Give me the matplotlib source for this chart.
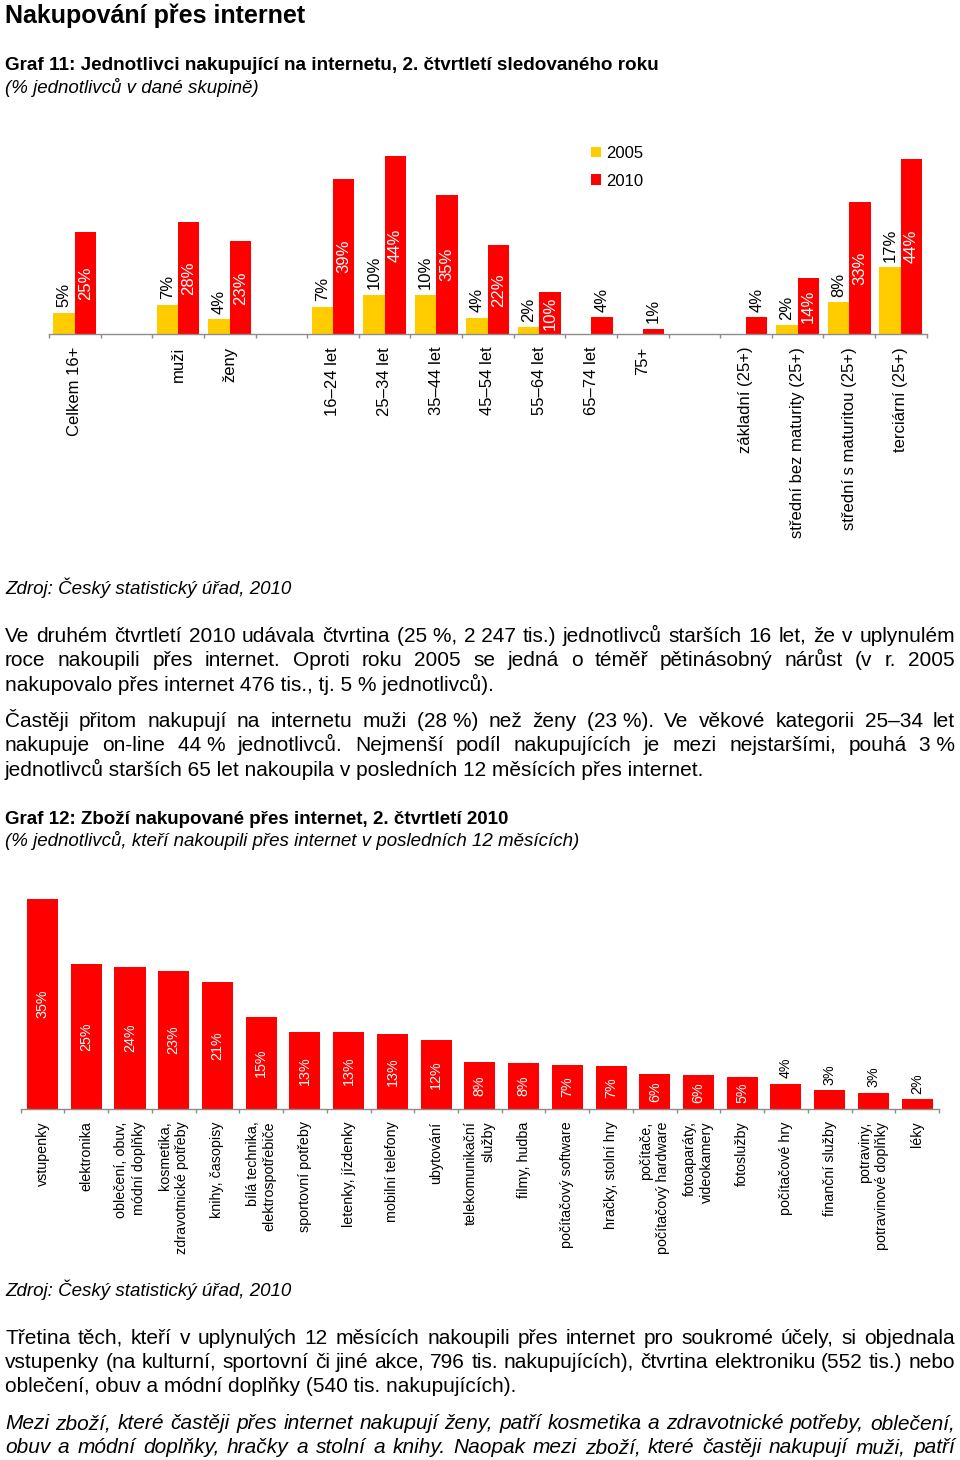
import numpy as np
import matplotlib
matplotlib.use("Agg")
import matplotlib.pyplot as plt
from matplotlib.patches import Patch

plt.rcParams['font.family'] = ['Liberation Sans', 'DejaVu Sans']

# ---------------- data: chart 1 ----------------
groups = ['Celkem 16+', '', 'muži', 'ženy', '', '16–24 let', '25–34 let',
          '35–44 let', '45–54 let', '55–64 let', '65–74 let', '75+', '',
          'základní (25+)', 'střední bez maturity (25+)',
          'střední s maturitou (25+)', 'terciární (25+)']
v2005 = [5.4, 0, 7.3, 3.7, 0, 6.8, 9.8, 9.8, 4.1, 1.8, 0, 0, 0, 0, 2.2, 8.0, 16.7]
v2010 = [25.4, 0, 27.9, 23.1, 0, 38.7, 44.4, 34.6, 22.1, 10.4, 4.2, 1.4, 0, 4.2, 14.0, 32.8, 43.6]
lab2005 = ['5%', '', '7%', '4%', '', '7%', '10%', '10%', '4%', '2%', '', '', '', '', '2%', '8%', '17%']
lab2010 = ['25%', '', '28%', '23%', '', '39%', '44%', '35%', '22%', '10%', '4%', '1%', '', '4%', '14%', '33%', '44%']
series_names = ['2005', '2010']

# ---------------- data: chart 2 ----------------
goods = ['vstupenky', 'elektronika', 'oblečení, obuv,\nmódní doplňky',
         'kosmetika,\nzdravotnické potřeby', 'knihy, časopisy',
         'bílá technika,\nelektrospotřebiče', 'sportovní potřeby',
         'letenky, jízdenky', 'mobilní telefony', 'ubytování',
         'telekomunikační\nslužby', 'filmy, hudba', 'počítačový software',
         'hračky, stolní hry', 'počítače,\npočítačový hardware',
         'fotoaparáty,\nvideokamery', 'fotoslužby', 'počítačové hry',
         'finanční služby', 'potraviny,\npotravinové doplňky', 'léky']
goods_val = [35.0, 24.2, 23.7, 23.0, 21.2, 15.3, 12.9, 12.9, 12.5, 11.5, 7.9,
             7.6, 7.3, 7.1, 5.8, 5.6, 5.3, 4.2, 3.1, 2.7, 1.6]
goods_lab = ['35%', '25%', '24%', '23%', '21%', '15%', '13%', '13%', '13%', '12%',
             '8%', '8%', '7%', '7%', '6%', '6%', '5%', '4%', '3%', '3%', '2%']

# ---------------- texts ----------------
title = 'Nakupování přes internet'
g11_title = 'Graf 11: Jednotlivci nakupující na internetu, 2. čtvrtletí sledovaného roku'
g11_sub = '(% jednotlivců v dané skupině)'
source = 'Zdroj: Český statistický úřad, 2010'
g12_title = 'Graf 12: Zboží nakupované přes internet, 2. čtvrtletí 2010'
g12_sub = '(% jednotlivců, kteří nakoupili přes internet v posledních 12 měsících)'
NB = '\u00a0'
par1 = ['Ve druhém čtvrtletí 2010 udávala čtvrtina (25' + NB + '%, 2' + NB + '247 tis.) jednotlivců starších 16 let, že v uplynulém',
        'roce nakoupili přes internet. Oproti roku 2005 se jedná o téměř pětinásobný nárůst (v r. 2005',
        'nakupovalo přes internet 476 tis., tj. 5' + NB + '% jednotlivců).']
par2 = ['Častěji přitom nakupují na internetu muži (28' + NB + '%) než ženy (23' + NB + '%). Ve věkové kategorii 25–34 let',
        'nakupuje on-line 44' + NB + '% jednotlivců. Nejmenší podíl nakupujících je mezi nejstaršími, pouhá 3' + NB + '%',
        'jednotlivců starších 65 let nakoupila v posledních 12 měsících přes internet.']
par3 = ['Třetina těch, kteří v uplynulých 12 měsících nakoupili přes internet pro soukromé účely, si objednala',
        'vstupenky (na kulturní, sportovní či jiné akce, 796 tis. nakupujících), čtvrtina elektroniku (552 tis.) nebo',
        'oblečení, obuv a módní doplňky (540 tis. nakupujících).']
par4 = ['Mezi zboží, které častěji přes internet nakupují ženy, patří kosmetika a zdravotnické potřeby, oblečení,',
        'obuv a módní doplňky, hračky a stolní a knihy. Naopak mezi zboží, které častěji nakupují muži, patří']

YELLOW = '#FFCC00'
RED = '#FF0000'
GREY = '#8C8C8C'

W, H = 960, 1460
fig = plt.figure(figsize=(9.6, 14.6), dpi=100)
fig.patch.set_facecolor('white')
renderer = fig.canvas.get_renderer()


def fy(y):
    return 1 - y / H


def ax_px(left, top, right, bottom):
    return fig.add_axes([left / W, 1 - bottom / H, (right - left) / W, (bottom - top) / H])


def fit_text(x, y, s, x_end, **kw):
    t = fig.text(x / W, fy(y), s, fontsize=10, va='baseline', ha='left', **kw)
    w = t.get_window_extent(renderer).width
    t.set_fontsize(10 * (x_end - x) / w)
    return t


def size_for(s, width, **kw):
    t = fig.text(0, 0, s, fontsize=10, **kw)
    w = t.get_window_extent(renderer).width
    t.remove()
    return 10 * width / w


def para_line(y, s, size, justify, x0=5, x1=955, **kw):
    if not justify:
        fig.text(x0 / W, fy(y), s, fontsize=size, va='baseline', ha='left', **kw)
        return
    words = s.split(' ')
    ts = [fig.text(0, fy(y), w, fontsize=size, va='baseline', ha='left', **kw) for w in words]
    widths = [t.get_window_extent(renderer).width for t in ts]
    gap = (x1 - x0 - sum(widths)) / (len(words) - 1)
    x = x0
    for t, w in zip(ts, widths):
        t.set_x(x / W)
        x += w + gap


def style_axis(ax, n, pad):
    for s in ['top', 'right', 'left']:
        ax.spines[s].set_visible(False)
    ax.spines['bottom'].set_color(GREY)
    ax.spines['bottom'].set_linewidth(1.0)
    ax.set_yticks([])
    ax.set_xlim(-0.5, n - 0.5)
    ax.set_xticks(np.arange(n + 1) - 0.5)
    ax.tick_params(axis='x', which='major', length=3, width=1, color=GREY,
                   direction='out', labelbottom=False)
    ax.set_xticks(np.arange(n), minor=True)
    ax.tick_params(axis='x', which='minor', length=0, pad=pad)
    ax.set_facecolor('none')


# ---------------- header texts ----------------
fit_text(5, 23, title, 305, fontweight='bold')
fit_text(5, 70, g11_title, 658, fontweight='bold')
fit_text(5, 93, g11_sub, 260, style='italic')

# ---------------- chart 1 ----------------
n1 = len(groups)
ax1 = ax_px(49, 334.3 - 45 * 4.02, 926.7, 334.3)
x1 = np.arange(n1)
bw = 0.415
ax1.bar(x1 - bw / 2, v2005, bw, color=YELLOW, linewidth=0)
ax1.bar(x1 + bw / 2, v2010, bw, color=RED, linewidth=0)
ax1.set_ylim(0, 45)
style_axis(ax1, n1, 9)
ax1.set_xticklabels(groups, minor=True, rotation=90, fontsize=12, ha='center', va='top')
for xi, v, lab in zip(x1, v2005, lab2005):
    if lab:
        ax1.annotate(lab, (xi - bw / 2, v), xytext=(0, 4), textcoords='offset points',
                     rotation=90, ha='center', va='bottom', fontsize=12, color='black')
for xi, v, lab in zip(x1, v2010, lab2010):
    if not lab:
        continue
    if v >= 8:
        ax1.text(xi + bw / 2, v / 2, lab, rotation=90, ha='center', va='center',
                 fontsize=12, color='white')
    else:
        ax1.annotate(lab, (xi + bw / 2, v), xytext=(0, 4), textcoords='offset points',
                     rotation=90, ha='center', va='bottom', fontsize=12, color='black')
handles = [Patch(facecolor=YELLOW, edgecolor='none'), Patch(facecolor=RED, edgecolor='none')]
fig.legend(handles, series_names, loc='upper left', bbox_to_anchor=(591 / W, fy(146)),
           frameon=False, fontsize=12, handlelength=0.6, handleheight=0.6,
           handletextpad=0.3, labelspacing=0.75, borderpad=0, borderaxespad=0)

# ---------------- middle texts ----------------
body = size_for(par1[2], 489)
fit_text(5, 594, source, 293, style='italic')
for y, s, j in zip([642, 666, 691], par1, [True, True, False]):
    para_line(y, s, body, j)
for y, s, j in zip([727, 751, 776], par2, [True, True, False]):
    para_line(y, s, body, j)
fit_text(5, 824, g12_title, 511, fontweight='bold')
fit_text(5, 846, g12_sub, 584, style='italic')

# ---------------- chart 2 ----------------
n2 = len(goods)
ax2 = ax_px(20.7, 1109 - 36 * 6.0, 939, 1109)
x2 = np.arange(n2)
ax2.bar(x2, goods_val, 0.71, color=RED, linewidth=0)
ax2.set_ylim(0, 36)
style_axis(ax2, n2, 9)
ax2.set_xticklabels(goods, minor=True, rotation=90, fontsize=10.3, ha='center', va='top',
                    multialignment='right', linespacing=1.3)
for xi, v, lab in zip(x2, goods_val, goods_lab):
    if v >= 4.5:
        ax2.text(xi, v / 2, lab, rotation=90, ha='center', va='center', fontsize=10.3,
                 color='white')
    else:
        ax2.annotate(lab, (xi, v), xytext=(0, 4), textcoords='offset points', rotation=90,
                     ha='center', va='bottom', fontsize=10.3, color='black')

# ---------------- bottom texts ----------------
fit_text(5, 1296, source, 293, style='italic')
for y, s, j in zip([1344, 1368, 1392], par3, [True, True, False]):
    para_line(y, s, body, j)
for y, s in zip([1429, 1453], par4):
    para_line(y, s, body, True, style='italic')

fig.savefig('out.png', dpi=100, facecolor='white')
